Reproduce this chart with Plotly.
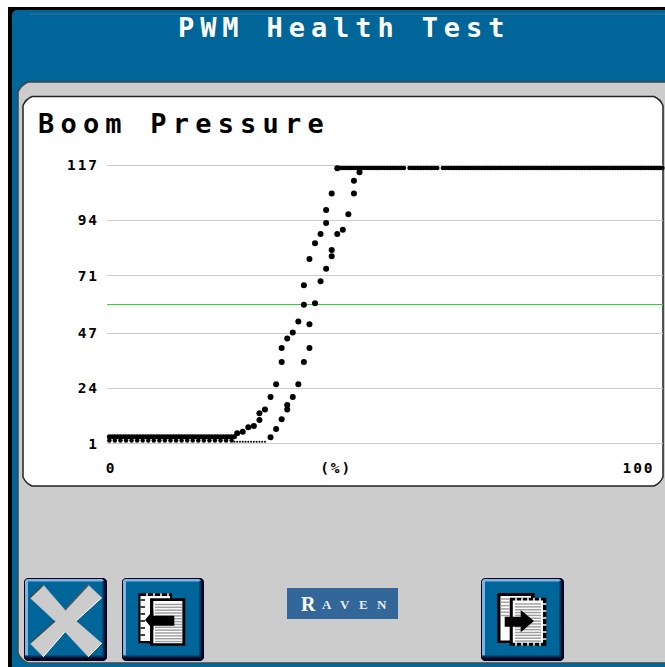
import plotly.graph_objects as go

W, H = 665, 667

# ---------- chart data ----------
y_ticks = [1, 24, 47, 71, 94, 117]
x_tick_positions = [0.9, 41.4, 95.8]
x_tick_labels = ["0", "(%)", "100"]
threshold = 58.9

branch_a_x = [23.6, 24.6, 25.6, 26.6, 27.6, 27.6, 28.6, 29.6, 30.6, 31.6, 31.6, 32.6,
              33.6, 34.6, 35.6, 35.6, 36.6, 37.6, 38.6, 39.6, 39.6, 40.6, 41.6]
branch_a_y = [5.3, 5.9, 7.8, 8.3, 10.8, 13.6, 15.2, 20.4, 25.7, 35.0, 40.8, 44.8,
              47.2, 51.8, 58.8, 66.9, 77.9, 84.4, 88.3, 92.9, 98.3, 105.2, 115.7]
branch_b_x = [29.6, 30.6, 31.6, 32.6, 32.6, 33.6, 34.6, 35.6, 36.6, 36.6, 37.6, 38.6,
              39.6, 40.6, 40.6, 41.6, 42.6, 43.6, 44.6, 44.6, 45.6]
branch_b_y = [3.6, 7.0, 11.1, 15.2, 17.0, 20.4, 25.7, 35.0, 40.8, 50.7, 59.4, 68.6,
              73.8, 79.0, 81.6, 88.3, 90.1, 96.5, 105.2, 110.5, 114.0]

low_upper_x = [0.1, 0.6, 1.1, 1.6, 2.1, 2.6, 3.1, 3.6, 4.1, 4.6, 5.1, 5.6, 6.1, 6.6, 7.1, 7.6,
               8.1, 8.6, 9.1, 9.6, 10.1, 10.6, 11.1, 11.6, 12.1, 12.6, 13.1, 13.6, 14.1, 14.6,
               15.1, 15.6, 16.1, 16.6, 17.1, 17.6, 18.1, 18.6, 19.1, 19.6, 20.1, 20.6, 21.1,
               21.6, 22.1, 22.6, 23.1]
low_upper_y = [3.8] * len(low_upper_x)
low_lower_x = [0.6, 1.6, 2.6, 3.6, 4.6, 5.6, 6.6, 7.6, 8.6, 9.6, 10.6, 11.6, 12.6,
               13.6, 14.6, 15.6, 16.6, 17.6, 18.6, 19.6, 20.6, 21.6, 22.6]
low_lower_y = [2.2] * len(low_lower_x)
low_thin_x = [23.1, 23.6, 24.1, 24.6, 25.1, 25.6, 26.1, 26.6, 27.1, 27.6, 28.1, 28.6]
low_thin_y = [1.7] * len(low_thin_x)

top_x = [41.6, 42.1, 42.6, 43.1, 43.6, 44.1, 44.6, 45.1, 45.6, 46.1, 46.6, 47.1, 47.6, 48.1,
         48.6, 49.1, 49.6, 50.1, 50.6, 51.1, 51.6, 52.1, 52.6, 53.1, 53.6, 54.6, 55.1, 55.6,
         56.1, 56.6, 57.1, 57.6, 58.1, 58.6, 59.1, 59.6, 60.6, 61.1, 61.6, 62.1, 62.6, 63.1,
         63.6, 64.1, 64.6, 65.1, 65.6, 66.1, 66.6, 67.1, 67.6, 68.1, 68.6, 69.1, 69.6, 70.1,
         70.6, 71.1, 71.6, 72.1, 72.6, 73.1, 73.6, 74.1, 74.6, 75.1, 75.6, 76.1, 76.6, 77.1,
         77.6, 78.1, 78.6, 79.1, 79.6, 80.1, 80.6, 81.1, 81.6, 82.1, 82.6, 83.1, 83.6, 84.1,
         84.6, 85.1, 85.6, 86.1, 86.6, 87.1, 87.6, 88.1, 88.6, 89.1, 89.6, 90.1, 90.6, 91.1,
         91.6, 92.1, 92.6, 93.1, 93.6, 94.1, 94.6, 95.1, 95.6, 96.1, 96.6, 97.1, 97.6, 98.1,
         98.6, 99.1, 99.6, 100.1]
top_y = [115.8] * len(top_x)
threshold_x = [0.2, 100.2]

# ---------- colours ----------
BLUE = "#006699"
GREY = "#cccccc"
DOT = "#000000"


def px(x):
    return x / W


def py(y):
    return 1 - y / H


shapes = []


def rect(x0, y0, x1, y1, fill, line=None, lw=0):
    shapes.append(dict(type="rect", xref="paper", yref="paper", layer="below",
                       x0=px(x0), x1=px(x1), y0=py(y1), y1=py(y0), fillcolor=fill,
                       line=dict(color=line or fill, width=lw)))


def poly(points, fill, line=None, lw=0):
    d = "M " + " L ".join(f"{px(a):.5f},{py(b):.5f}" for a, b in points) + " Z"
    shapes.append(dict(type="path", xref="paper", yref="paper", layer="below", path=d,
                       fillcolor=fill, line=dict(color=line or fill, width=lw)))


def seg(x0, y0, x1, y1, color, lw=1):
    shapes.append(dict(type="line", xref="paper", yref="paper", layer="below",
                       x0=px(x0), x1=px(x1), y0=py(y0), y1=py(y1),
                       line=dict(color=color, width=lw)))


def rrect(x0, y0, x1, y1, r, fill, line=None, lw=0):
    k = 0.3 * r
    d = (f"M {px(x0+r):.5f},{py(y0):.5f} L {px(x1-r):.5f},{py(y0):.5f} "
         f"Q {px(x1-k):.5f},{py(y0+k):.5f} {px(x1):.5f},{py(y0+r):.5f} "
         f"L {px(x1):.5f},{py(y1-r):.5f} Q {px(x1-k):.5f},{py(y1-k):.5f} {px(x1-r):.5f},{py(y1):.5f} "
         f"L {px(x0+r):.5f},{py(y1):.5f} Q {px(x0+k):.5f},{py(y1-k):.5f} {px(x0):.5f},{py(y1-r):.5f} "
         f"L {px(x0):.5f},{py(y0+r):.5f} Q {px(x0+k):.5f},{py(y0+k):.5f} {px(x0+r):.5f},{py(y0):.5f} Z")
    shapes.append(dict(type="path", xref="paper", yref="paper", layer="below", path=d,
                       fillcolor=fill, line=dict(color=line or fill, width=lw)))


# window
rect(8, 7, 665, 667, "#000000")
rrect(12, 10, 680, 680, 4, BLUE)
seg(30, 14, 665, 14, "#33779c", 1)
# grey panel
rrect(18, 82, 690, 663, 10, GREY, "#444444", 1.5)
seg(18, 664.5, 665, 664.5, BLUE, 2)
rrect(23, 96.5, 663, 486, 9, "#ffffff", "#222222", 1.5)


def button(x0, x1):
    y0, y1 = 578, 661
    rrect(x0, y0, x1, y1, 3, "#000022")
    rrect(x0 + 1, y0 + 1, x1 - 3, y1 - 4, 2, "#7fb3e0")
    rect(x0 + 4, y0 + 3.5, x1 - 4, y1 - 5, BLUE)
    seg(x1 - 3.5, y0 + 3, x1 - 3.5, y1 - 4, "#003355", 2)
    seg(x0 + 1, y1 - 4.5, x1 - 3, y1 - 4.5, "#003355", 2)


button(24, 107)
button(122, 204)
button(481, 564)

# close-cross
cross = [(30, 597.7), (43.3, 585), (65, 610), (88.3, 585), (101.7, 597.7), (76, 621),
         (101.7, 643.3), (88.3, 656.7), (65, 631.7), (43.3, 656.7), (30, 643.3), (55, 621)]
poly(cross, GREY, GREY, 0.5)
seg(30, 597.7, 43.3, 585, "#444444", 1.5)
seg(65, 610, 88.3, 585, "#555555", 1.5)
seg(30, 643.3, 55, 621, "#444444", 1.5)
seg(43.3, 656.7, 65, 631.7, "#ffffff", 1)
seg(88.3, 656.7, 101.7, 643.3, "#ffffff", 1)
seg(76, 621, 101.7, 597.7, "#ffffff", 1)


def ticks_h(x0, x1, y0, n, step, color):
    for i in range(n):
        seg(x0, y0 + i * step, x1, y0 + i * step, color, 1.5)


def ticks_v(y0, y1, x0, n, step, color):
    for i in range(n):
        seg(x0 + i * step, y0, x0 + i * step, y1, color, 1.5)


# previous-page icon
rect(138.3, 593.3, 172, 643.3, "#000000")
rect(140.5, 596, 170, 641, "#ffffff")
ticks_h(140.5, 145, 600, 6, 7, "#000000")
ticks_v(593.3, 597, 147, 4, 7, "#ffffff")
rect(150, 598.3, 185.3, 645.7, "#000000")
rect(153.3, 601, 182.3, 643.3, "#ffffff")
ticks_h(155, 182.3, 604.5, 14, 2.85, "#a0a0a0")
poly([(145, 620), (153.3, 610), (153.3, 615.7), (174.3, 615.7), (174.3, 625.7), (153.3, 625.7), (153.3, 630)], "#000000")

# next-page icon
rect(497.3, 593, 534.7, 643, "#000000")
rect(500.5, 596, 531, 640.5, "#ffffff")
ticks_h(500.5, 509, 599, 6, 3.3, "#a0a0a0")
rect(509.7, 597.7, 546.3, 645.7, "#000000")
rect(512.8, 600.5, 543, 642.8, "#ffffff")
ticks_h(515, 541, 604, 14, 2.85, "#a0a0a0")
ticks_v(597.7, 601.5, 516, 5, 6, "#ffffff")
ticks_v(642, 645.7, 516, 5, 6, "#ffffff")
ticks_h(542, 546.3, 604, 6, 7, "#ffffff")
poly([(504.7, 616.7), (520.7, 616.7), (520.7, 610), (534, 621), (520.7, 632.3), (520.7, 626.7), (504.7, 626.7)], "#000000")

# Raven logo
rect(287, 588, 398, 619, "#336699")


def note(text, x, y, size, color, family, bold=True, spacing=0, anchor="left"):
    t = f"<b>{text}</b>" if bold else text
    if spacing:
        t = f'<span style="letter-spacing:{spacing}px">{t}</span>'
    return dict(text=t, x=px(x), y=py(y), xref="paper", yref="paper", xanchor=anchor,
                yanchor="middle", showarrow=False, align="left",
                font=dict(size=size, color=color, family=family))


MONO = "DejaVu Sans Mono"
annotations = [
    note("PWM Health Test", 176, 27, 27, "#ffffff", MONO, True, 5.9),
    note("Boom Pressure", 36, 124, 27, "#000000", MONO, True, 6.2),
    note("R", 298.5, 603.5, 20, "#ffffff", "Liberation Serif", True),
    note("A", 320, 604.5, 13, "#e8eef5", "Liberation Serif", True),
    note("V", 338, 604.5, 13, "#e8eef5", "Liberation Serif", True),
    note("E", 357, 604.5, 13, "#e8eef5", "Liberation Serif", True),
    note("N", 375, 604.5, 13, "#e8eef5", "Liberation Serif", True),
]


def spaced(s):
    return f'<span style="letter-spacing:1.9px"><b>{s}</b></span>'


fig = go.Figure()


def dots(x, y, size):
    fig.add_trace(go.Scatter(x=x, y=y, mode="markers", cliponaxis=False, showlegend=False,
                             marker=dict(color=DOT, size=size, line=dict(width=0))))


fig.add_trace(go.Scatter(x=threshold_x, y=[threshold, threshold], mode="lines", showlegend=False,
                         cliponaxis=False, line=dict(color="#33cc33", width=1)))
dots(low_thin_x, low_thin_y, 2)
dots(low_lower_x, low_lower_y, 4.5)
dots(low_upper_x, low_upper_y, 5)
dots(top_x, top_y, 4.5)
dots(branch_a_x, branch_a_y, 6)
dots(branch_b_x, branch_b_y, 6)

# axis geometry: y = 1 + (443.5 - row) / 2.4 ; x = (col - 106) / 5.56
top_px, bot_px = 155, 455
left_px, right_px = 107, 663
fig.update_layout(
    width=W, height=H, margin=dict(l=0, r=0, t=0, b=0), autosize=False,
    paper_bgcolor="#ffffff", plot_bgcolor="rgba(0,0,0,0)",
    shapes=shapes, annotations=annotations, showlegend=False,
    xaxis=dict(domain=[left_px / W, right_px / W], range=[0.18, 100.2], showgrid=False,
               zeroline=False, showline=False, ticks="", tickmode="array",
               tickvals=x_tick_positions, ticktext=[spaced(t) for t in x_tick_labels],
               tickfont=dict(family=MONO, size=14.5, color="#000000"), ticklabelstandoff=2),
    yaxis=dict(domain=[1 - bot_px / H, 1 - top_px / H], range=[-3.79, 121.21], showgrid=True,
               gridcolor="#cccccc", gridwidth=1, zeroline=False, showline=False, ticks="",
               tickmode="array", tickvals=y_ticks, ticktext=[spaced(str(t)) for t in y_ticks],
               tickfont=dict(family=MONO, size=14.5, color="#000000"), ticklabelstandoff=7),
)

fig.write_html("out.html", config={"displayModeBar": False},
               post_script="document.body.style.margin='0';document.body.style.overflow='hidden';")
